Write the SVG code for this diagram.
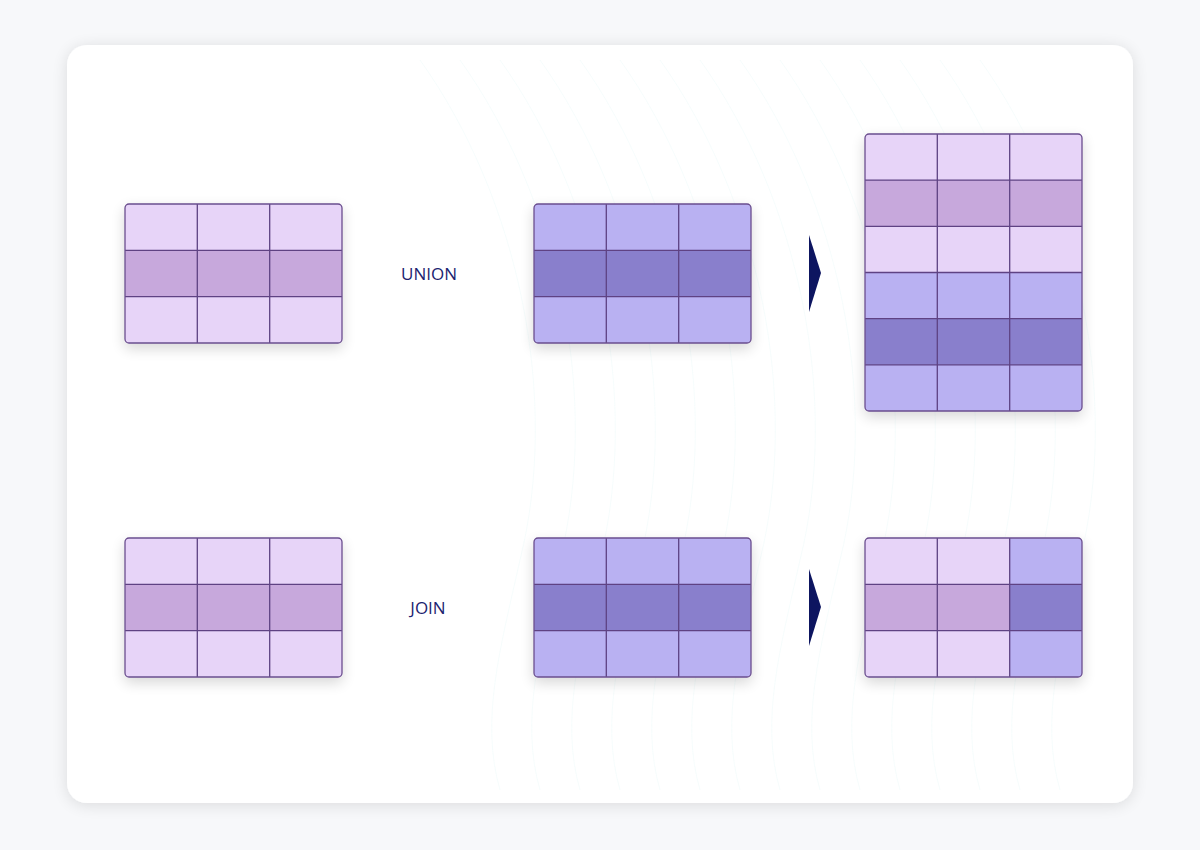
<svg xmlns="http://www.w3.org/2000/svg" width="1200" height="850" viewBox="0 0 1200 850">
<defs>
<filter id="cardShadow" x="-10%" y="-10%" width="120%" height="120%"><feGaussianBlur in="SourceAlpha" stdDeviation="8"/><feOffset dy="2"/><feComponentTransfer><feFuncA type="linear" slope="0.12"/></feComponentTransfer><feMerge><feMergeNode/><feMergeNode in="SourceGraphic"/></feMerge></filter>
<filter id="tblShadow" x="-20%" y="-20%" width="140%" height="140%"><feGaussianBlur in="SourceAlpha" stdDeviation="7"/><feOffset dy="5"/><feComponentTransfer><feFuncA type="linear" slope="0.16"/></feComponentTransfer><feMerge><feMergeNode/><feMergeNode in="SourceGraphic"/></feMerge></filter>
</defs>
<style>
.l{fill:#e7d4f8}.m{fill:#c7a8dc}.b{fill:#b9b1f2}.d{fill:#897fcc}
.g{stroke:#5e4283;stroke-width:1.3;fill:none}
.o{fill:none;stroke:#6a4e8e;stroke-width:1.3}
.lbl{font-family:"Open Sans","Liberation Sans",sans-serif;font-size:17px;fill:#1b2370;text-anchor:middle}
.arr{fill:#0d1560}
.wave{fill:none;stroke:#e6f8f7;stroke-width:0.8}
</style>
<rect width="1200" height="850" fill="#f7f8fa"/>
<rect x="67" y="45" width="1066" height="758" rx="20" fill="#ffffff" filter="url(#cardShadow)"/>
<g id="bg-waves" opacity="0.45">
<path class="wave" d="M420 60 C520 200 560 400 520 560 C500 650 480 720 500 790"/>
<path class="wave" d="M460 60 C560 200 600 400 560 560 C540 650 520 720 540 790"/>
<path class="wave" d="M500 60 C600 200 640 400 600 560 C580 650 560 720 580 790"/>
<path class="wave" d="M540 60 C640 200 680 400 640 560 C620 650 600 720 620 790"/>
<path class="wave" d="M580 60 C680 200 720 400 680 560 C660 650 640 720 660 790"/>
<path class="wave" d="M620 60 C720 200 760 400 720 560 C700 650 680 720 700 790"/>
<path class="wave" d="M660 60 C760 200 800 400 760 560 C740 650 720 720 740 790"/>
<path class="wave" d="M700 60 C800 200 840 400 800 560 C780 650 760 720 780 790"/>
<path class="wave" d="M740 60 C840 200 880 400 840 560 C820 650 800 720 820 790"/>
<path class="wave" d="M780 60 C880 200 920 400 880 560 C860 650 840 720 860 790"/>
<path class="wave" d="M820 60 C920 200 960 400 920 560 C900 650 880 720 900 790"/>
<path class="wave" d="M860 60 C960 200 1000 400 960 560 C940 650 920 720 940 790"/>
<path class="wave" d="M900 60 C1000 200 1040 400 1000 560 C980 650 960 720 980 790"/>
<path class="wave" d="M940 60 C1040 200 1080 400 1040 560 C1020 650 1000 720 1020 790"/>
<path class="wave" d="M980 60 C1080 200 1120 400 1080 560 C1060 650 1040 720 1060 790"/>
</g>

<g id="union-left" filter="url(#tblShadow)">
<rect x="125" y="204" width="217" height="139" rx="4" class="l"/>
<rect x="125" y="250.3" width="217" height="46.3" class="m"/>
<path class="g" d="M197.3 204V343M269.7 204V343M125 250.3H342M125 296.7H342"/>
<rect x="125" y="204" width="217" height="139" rx="4" class="o"/>
</g>

<g id="union-right" filter="url(#tblShadow)">
<rect x="534" y="204" width="217" height="139" rx="4" class="b"/>
<rect x="534" y="250.3" width="217" height="46.3" class="d"/>
<path class="g" d="M606.3 204V343M678.7 204V343M534 250.3H751M534 296.7H751"/>
<rect x="534" y="204" width="217" height="139" rx="4" class="o"/>
</g>

<g id="union-result" filter="url(#tblShadow)">
<rect x="865" y="134" width="217" height="277" rx="4" class="l"/>
<rect x="865" y="180.2" width="217" height="46.2" class="m"/>
<rect x="865" y="272.5" width="217" height="46.2" class="b"/>
<rect x="865" y="318.7" width="217" height="46.2" class="d"/>
<path class="b" d="M865 364.8H1082V407a4 4 0 0 1-4 4H869a4 4 0 0 1-4-4Z"/>
<path class="g" d="M937.3 134V411M1009.7 134V411M865 180.2H1082M865 226.3H1082M865 272.5H1082M865 318.7H1082M865 364.8H1082"/>
<rect x="865" y="134" width="217" height="277" rx="4" class="o"/>
</g>

<g id="join-left" filter="url(#tblShadow)">
<rect x="125" y="538" width="217" height="139" rx="4" class="l"/>
<rect x="125" y="584.3" width="217" height="46.3" class="m"/>
<path class="g" d="M197.3 538V677M269.7 538V677M125 584.3H342M125 630.7H342"/>
<rect x="125" y="538" width="217" height="139" rx="4" class="o"/>
</g>

<g id="join-right" filter="url(#tblShadow)">
<rect x="534" y="538" width="217" height="139" rx="4" class="b"/>
<rect x="534" y="584.3" width="217" height="46.3" class="d"/>
<path class="g" d="M606.3 538V677M678.7 538V677M534 584.3H751M534 630.7H751"/>
<rect x="534" y="538" width="217" height="139" rx="4" class="o"/>
</g>

<g id="join-result" filter="url(#tblShadow)">
<rect x="865" y="538" width="217" height="139" rx="4" class="l"/>
<rect x="865" y="584.3" width="144.7" height="46.3" class="m"/>
<path class="b" d="M1009.7 538H1078a4 4 0 0 1 4 4V673a4 4 0 0 1-4 4H1009.7Z"/>
<rect x="1009.7" y="584.3" width="72.3" height="46.3" class="d"/>
<path class="g" d="M937.3 538V677M1009.7 538V677M865 584.3H1082M865 630.7H1082"/>
<rect x="865" y="538" width="217" height="139" rx="4" class="o"/>
</g>

<g id="label-union"><text class="lbl" x="429" y="280">UNION</text></g>
<g id="label-join"><text class="lbl" x="428" y="614">JOIN</text></g>

<g id="connectors">
<polygon class="arr" points="809,235 821,273 809,312"/>
<polygon class="arr" points="809,569 821,607 809,646"/>
</g>
</svg>
